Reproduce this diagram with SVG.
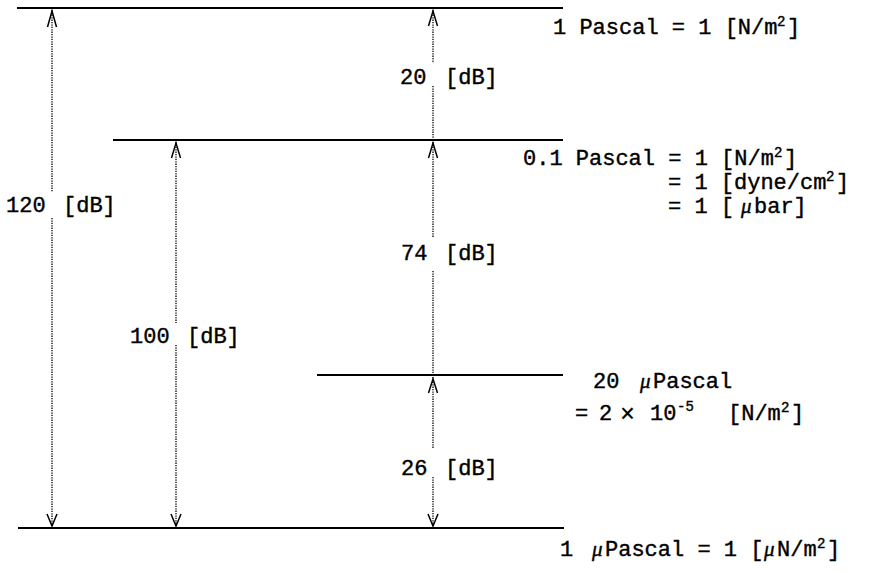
<svg xmlns="http://www.w3.org/2000/svg" width="869" height="573" viewBox="0 0 869 573">
<style>
.lvl{stroke:#000;stroke-width:2.2;fill:none}
.dim{stroke:#000;stroke-width:1.3;stroke-dasharray:1.3 1.1;fill:none}
.hd{stroke:#000;stroke-width:1.5;fill:none;stroke-linejoin:miter}
text{font-family:"Liberation Mono","Courier New",monospace;font-size:22px;fill:#000;stroke:#000;stroke-width:0.4}
.mu{font-family:"Liberation Serif","Times New Roman",serif;font-style:italic;font-size:21px}
.sup{font-size:14px}
.x{font-size:25px;stroke-width:0.2}
</style>
<rect width="869" height="573" fill="#fff"/>
<g id="levels">
<line class="lvl" x1="17" y1="8" x2="563" y2="8"/>
<line class="lvl" x1="113" y1="140" x2="563" y2="140"/>
<line class="lvl" x1="317" y1="375" x2="563" y2="375"/>
<line class="lvl" x1="18" y1="528" x2="564" y2="528"/>
</g>
<g id="connectors">
<path class="dim" d="M52 10V192M52 218V526"/>
<path class="hd" d="M47.5 27L52 11L56.5 27M47 514L52 526L57 514"/>
<path class="dim" d="M176 142V323M176 345V526"/>
<path class="hd" d="M171.5 158L176 143L180.5 158M171 514L176 526L181 514"/>
<path class="dim" d="M433 10V63M433 86V138"/>
<path class="hd" d="M428.5 26L433 11L437.5 26"/>
<path class="dim" d="M433 142V237M433 271V373"/>
<path class="hd" d="M428.5 158L433 143L437.5 158"/>
<path class="dim" d="M433 377V448M433 477V526"/>
<path class="hd" d="M428.5 393L433 379L437.5 393M428 514L433 526L438 514"/>
</g>
<g id="labels-db">
<text x="6" y="212">120</text><text x="63" y="212">[dB]</text>
<text x="130" y="343">100</text><text x="187" y="343">[dB]</text>
<text x="400" y="84">20</text><text x="445" y="84">[dB]</text>
<text x="401" y="260">74</text><text x="445" y="260">[dB]</text>
<text x="401" y="475">26</text><text x="445" y="475">[dB]</text>
</g>
<g id="label-1pa">
<text y="34" xml:space="preserve"><tspan x="553">1 Pascal = 1 [N/m</tspan><tspan class="sup" x="777" dy="-8">2</tspan><tspan x="787" dy="8">]</tspan></text>
</g>
<g id="label-01pa">
<text y="165" xml:space="preserve"><tspan x="523">0.1 Pascal = 1 [N/m</tspan><tspan class="sup" x="774" dy="-8">2</tspan><tspan x="784" dy="8">]</tspan></text>
<text y="189" xml:space="preserve"><tspan x="668">= 1 [dyne/cm</tspan><tspan class="sup" x="826" dy="-8">2</tspan><tspan x="836" dy="8">]</tspan></text>
<text y="213" xml:space="preserve"><tspan x="668">= 1 [</tspan><tspan class="mu" x="741">μ</tspan><tspan x="754">bar]</tspan></text>
</g>
<g id="label-20upa">
<text y="388" xml:space="preserve"><tspan x="593">20</tspan><tspan class="mu" x="640">μ</tspan><tspan x="653">Pascal</tspan></text>
<text y="420" xml:space="preserve"><tspan x="575">=</tspan><tspan x="599">2</tspan><tspan class="x" x="620" dy="2">×</tspan><tspan x="650" dy="-2">10</tspan><tspan class="sup" x="677" dy="-9">-5</tspan><tspan x="728" dy="9">[N/m</tspan><tspan class="sup" x="781" dy="-8">2</tspan><tspan x="791" dy="8">]</tspan></text>
</g>
<g id="label-1upa">
<text y="556" xml:space="preserve"><tspan x="560">1</tspan><tspan class="mu" x="592">μ</tspan><tspan x="605">Pascal = 1 [</tspan><tspan class="mu" x="764">μ</tspan><tspan x="777">N/m</tspan><tspan class="sup" x="817" dy="-8">2</tspan><tspan x="827" dy="8">]</tspan></text>
</g>
</svg>
